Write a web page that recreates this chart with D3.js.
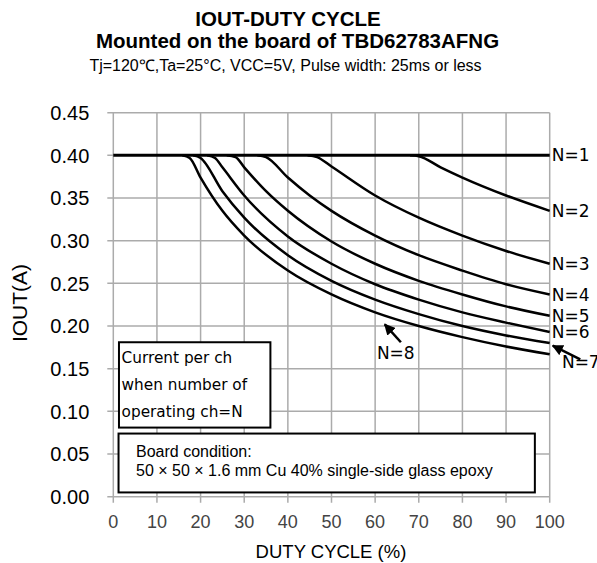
<!DOCTYPE html>
<head>
<style>
  body { margin: 0; background: #fff; }
</style>
</head>
<body>
<svg width="597" height="563" font-family="Liberation Sans, Arial, sans-serif"></svg>
<script src="https://cdn.jsdelivr.net/npm/d3@7"></script>
<script>

// ticks
var xTicks = [0, 10, 20, 30, 40, 50, 60, 70, 80, 90, 100];
var yTicks = [0, 0.05, 0.10, 0.15, 0.20, 0.25, 0.30, 0.35, 0.40, 0.45];

// curves: [duty %, IOUT A]
var n1 = [[0, 0.400], [100, 0.400]];
var n2 = [[68, 0.400], [70, 0.399], [75, 0.386], [80, 0.374], [90, 0.353], [100, 0.335]];
var n3 = [[44.5, 0.400], [46.7, 0.398], [50, 0.387], [60, 0.353], [70, 0.327], [80, 0.306], [90, 0.288], [100, 0.273]];
var n4 = [[33, 0.400], [35, 0.398], [40, 0.374], [45, 0.353], [50, 0.335], [60, 0.306], [70, 0.283], [80, 0.265], [90, 0.249], [100, 0.237]];
var n5 = [[26, 0.400], [28, 0.398], [30, 0.386], [35, 0.358], [40, 0.335], [50, 0.299], [60, 0.273], [70, 0.253], [80, 0.237], [90, 0.223], [100, 0.212]];
var n6 = [[21.5, 0.400], [23.3, 0.397], [25, 0.386], [30, 0.353], [40, 0.305], [50, 0.273], [60, 0.249], [70, 0.231], [80, 0.216], [90, 0.204], [100, 0.193]];
var n7 = [[18.3, 0.400], [20, 0.397], [25, 0.358], [30, 0.327], [40, 0.283], [50, 0.253], [60, 0.231], [70, 0.214], [80, 0.200], [90, 0.189], [100, 0.180]];
var n8 = [[15.8, 0.400], [17.5, 0.397], [20, 0.374], [25, 0.335], [30, 0.306], [40, 0.265], [50, 0.237], [60, 0.216], [70, 0.200], [80, 0.187], [90, 0.176], [100, 0.167]];
var series = [n1, n2, n3, n4, n5, n6, n7, n8];
var labels = ["N=1", "N=2", "N=3", "N=4", "N=5", "N=6", "N=7", "N=8"];

var svg = d3.select("svg"),
    margin = {top: 112.7, left: 113.3},
    width = 436.4,
    height = 384,
    g = svg.append("g").attr("transform", "translate(" + margin.left + "," + margin.top + ")");

var x = d3.scaleLinear().domain([0, 100]).range([0, width]);
var y = d3.scaleLinear().domain([0, 0.45]).range([height, 0]);

var gothic = "DejaVu Sans, Verdana, sans-serif";

// titles
svg.append("text").attr("x", 288).attr("y", 25.5)
    .attr("text-anchor", "middle").attr("font-weight", "bold").attr("font-size", 20.5)
    .text("IOUT-DUTY CYCLE");
svg.append("text").attr("x", 297.5).attr("y", 47.5)
    .attr("text-anchor", "middle").attr("font-weight", "bold").attr("font-size", 20.5)
    .text("Mounted on the board of TBD62783AFNG");
svg.append("text").attr("x", 285.5).attr("y", 71)
    .attr("text-anchor", "middle").attr("font-size", 16)
    .text("Tj=120\u2103,Ta=25\u00b0C, VCC=5V, Pulse width: 25ms or less");

// grid
g.append("g").selectAll("line").data(xTicks).enter().append("line")
    .attr("x1", function(d) { return x(d); }).attr("x2", function(d) { return x(d); })
    .attr("y1", 0).attr("y2", height + 6)
    .attr("stroke", "#ababab").attr("stroke-width", 1.5);
g.append("g").selectAll("line").data(yTicks).enter().append("line")
    .attr("y1", function(d) { return y(d); }).attr("y2", function(d) { return y(d); })
    .attr("x1", -6).attr("x2", width)
    .attr("stroke", "#ababab").attr("stroke-width", 1.5);

// tick labels
g.append("g").selectAll("text").data(xTicks).enter().append("text")
    .attr("x", function(d) { return x(d); }).attr("y", height + 31.5)
    .attr("text-anchor", "middle").attr("font-size", 18).attr("fill", "#444")
    .text(function(d) { return d; });
g.append("g").selectAll("text").data(yTicks).enter().append("text")
    .attr("x", -24).attr("y", function(d) { return y(d); }).attr("dy", "0.36em")
    .attr("text-anchor", "end").attr("font-size", 20)
    .text(function(d) { return d.toFixed(2); });

svg.append("text").attr("x", 331).attr("y", 558)
    .attr("text-anchor", "middle").attr("font-size", 18.5)
    .text("DUTY CYCLE (%)");
svg.append("text").attr("transform", "translate(27,303) rotate(-90)")
    .attr("text-anchor", "middle").attr("font-size", 21)
    .text("IOUT(A)");

// boxes
g.append("rect").attr("x", x(1.3)).attr("y", y(0.181)).attr("width", x(36) - x(1.3)).attr("height", y(0.081) - y(0.181))
    .attr("fill", "#fff").attr("stroke", "#000").attr("stroke-width", 2);
["Current per ch", "when number of", "operating ch=N"].forEach(function(t, i) {
  g.append("text").attr("x", x(1.9)).attr("y", y(0.157) + i * 27)
      .attr("font-family", gothic).attr("font-size", 15.3).text(t);
});
g.append("rect").attr("x", x(1.2)).attr("y", y(0.074)).attr("width", x(96.6) - x(1.2)).attr("height", y(0.005) - y(0.074))
    .attr("fill", "#fff").attr("stroke", "#000").attr("stroke-width", 2);
g.append("text").attr("x", x(5.2)).attr("y", y(0.047)).attr("font-size", 16).text("Board condition:");
g.append("text").attr("x", x(5.2)).attr("y", y(0.0245)).attr("font-size", 16)
    .text("50 \u00d7 50 \u00d7 1.6 mm Cu 40% single-side glass epoxy");

// curves
var line = d3.line()
    .x(function(d) { return x(d[0]); })
    .y(function(d) { return y(d[1]); })
    .curve(d3.curveMonotoneX);

g.selectAll(".curve").data(series).enter().append("path")
    .attr("class", "curve")
    .attr("fill", "none").attr("stroke", "#000")
    .attr("stroke-width", function(d, i) { return i === 0 ? 3 : 2.5; })
    .attr("stroke-linejoin", "round")
    .attr("d", line);

// right-hand labels N=1..6
g.append("g").selectAll("text").data(series.slice(0, 6)).enter().append("text")
    .attr("x", width + 2)
    .attr("y", function(d) { return y(d[d.length - 1][1]); })
    .attr("dy", "0.36em")
    .attr("font-family", gothic).attr("font-size", 17)
    .text(function(d, i) { return labels[i]; });

// arrows for N=7 and N=8
svg.append("defs").append("marker")
    .attr("id", "head").attr("viewBox", "0 0 10 10").attr("refX", 9).attr("refY", 5)
    .attr("markerWidth", 4.5).attr("markerHeight", 4.5).attr("orient", "auto")
  .append("path").attr("d", "M0,0L10,5L0,10z").attr("fill", "#000");

function arrow(d0, v0, d1, v1) {
  g.append("line")
      .attr("x1", x(d0)).attr("y1", y(v0)).attr("x2", x(d1)).attr("y2", y(v1))
      .attr("stroke", "#000").attr("stroke-width", 2.5)
      .attr("marker-end", "url(#head)");
}
arrow(65.9, 0.181, 62.2, 0.202);
arrow(107, 0.161, 100.7, 0.177);

g.append("text").attr("x", x(60.4)).attr("y", y(0.169)).attr("dy", "0.36em")
    .attr("font-family", gothic).attr("font-size", 17).text(labels[7]);
g.append("text").attr("x", x(102.8)).attr("y", y(0.158)).attr("dy", "0.36em")
    .attr("font-family", gothic).attr("font-size", 17).text(labels[6]);

</script>
</body>
